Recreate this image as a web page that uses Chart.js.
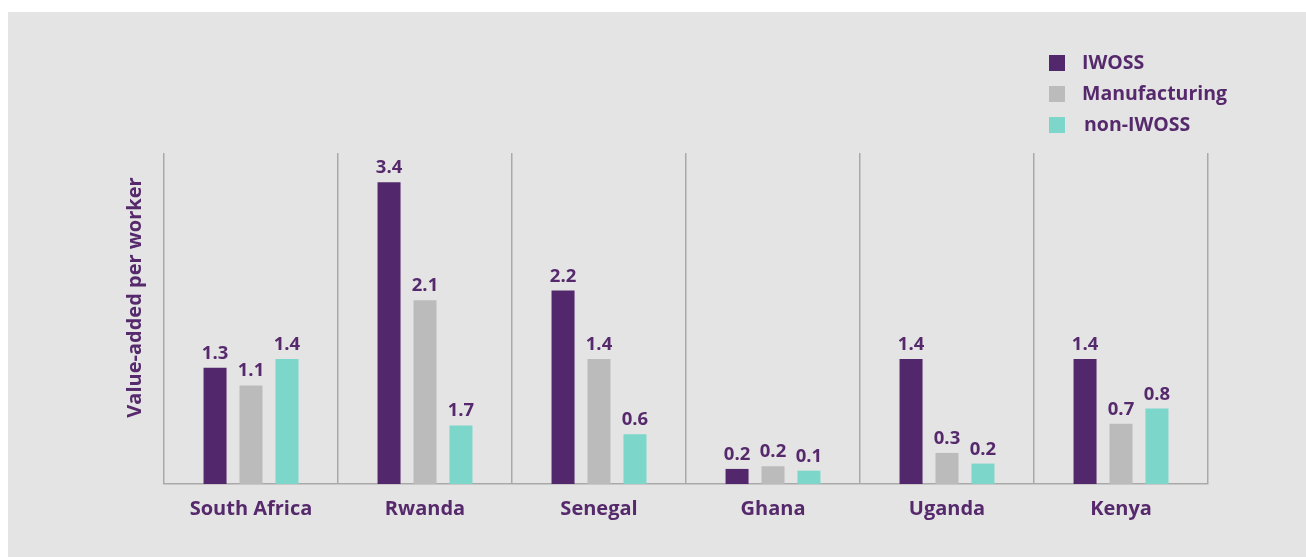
<!DOCTYPE html>
<html>
<head>
<meta charset="utf-8">
<script src="https://cdn.jsdelivr.net/npm/chart.js@4.4.1/dist/chart.umd.min.js"></script>
<style>
    html, body { margin: 0; padding: 0; background: #ffffff; }
    #wrap { position: absolute; left: 8px; top: 12px; width: 1298px; height: 545px; background: #e4e4e4; }
</style>
</head>
<body>
<div id="wrap"><canvas id="chart" width="1298" height="545"></canvas></div>
<script>
const countries = ['South Africa', 'Rwanda', 'Senegal', 'Ghana', 'Uganda', 'Kenya'];

// bar heights as drawn in the picture
const iwoss = [1.31, 3.40, 2.18, 0.17, 1.41, 1.41];
const manufacturing = [1.11, 2.07, 1.41, 0.20, 0.35, 0.68];
const nonIwoss = [1.41, 0.66, 0.56, 0.15, 0.23, 0.85];

// value labels as printed above the bars
const iwossLabels = ['1.3', '3.4', '2.2', '0.2', '1.4', '1.4'];
const manufacturingLabels = ['1.1', '2.1', '1.4', '0.2', '0.3', '0.7'];
const nonIwossLabels = ['1.4', '1.7', '0.6', '0.1', '0.2', '0.8'];

const yTitle = 'Value-added per worker';

const TEXT = '#55296b';
const FONT = '"Open Sans", sans-serif';

const overlayPlugin = {
    id: 'overlay',
    afterDatasetsDraw(chart) {
        const ctx = chart.ctx;
        ctx.save();
        ctx.fillStyle = TEXT;
        ctx.font = `bold 18.5px ${FONT}`;
        ctx.textAlign = 'center';
        ctx.textBaseline = 'alphabetic';
        chart.data.datasets.forEach((ds, i) => {
            chart.getDatasetMeta(i).data.forEach((bar, j) => {
                ctx.fillText(ds.valueLabels[j], bar.x, bar.y - 9);
            });
        });

        // legend
        ctx.font = `bold 19.5px ${FONT}`;
        ctx.textAlign = 'left';
        ctx.textBaseline = 'middle';
        chart.data.datasets.forEach((ds, i) => {
            const y = 43 + i * 31;
            ctx.fillStyle = ds.backgroundColor;
            ctx.fillRect(1041, y, 16, 16);
            ctx.fillStyle = TEXT;
            ctx.fillText(ds.label, 1074 + (i === 2 ? 2 : 0), y + 8);
        });

        // y axis title
        ctx.font = `bold 20px ${FONT}`;
        ctx.translate(127.5, 285.5);
        ctx.rotate(-Math.PI / 2);
        ctx.textAlign = 'center';
        ctx.fillText(yTitle, 0, 0);
        ctx.restore();
    }
};

new Chart(document.getElementById('chart'), {
    type: 'bar',
    data: {
        labels: countries,
        datasets: [
            { label: 'IWOSS', data: iwoss, valueLabels: iwossLabels, backgroundColor: '#53276b' },
            { label: 'Manufacturing', data: manufacturing, valueLabels: manufacturingLabels, backgroundColor: '#bbbbbc' },
            { label: 'non-IWOSS', data: nonIwoss, valueLabels: nonIwossLabels, backgroundColor: '#7cd6ca' }
        ].map(ds => ({ ...ds, categoryPercentage: 0.62, barPercentage: 0.64 }))
    },
    options: {
        responsive: false,
        animation: false,
        layout: { padding: { left: 156, right: 98, top: 141, bottom: 23 } },
        plugins: { legend: { display: false }, tooltip: { enabled: false } },
        scales: {
            x: {
                grid: { offset: true, color: '#a9a9a9', lineWidth: 1.5, drawTicks: false },
                border: { color: '#a9a9a9', width: 1.5 },
                ticks: { color: TEXT, font: { family: FONT, size: 20, weight: 'bold' }, padding: 13 }
            },
            y: { display: false, min: 0, max: 3.73 }
        }
    },
    plugins: [overlayPlugin]
});
</script>
</body>
</html>
